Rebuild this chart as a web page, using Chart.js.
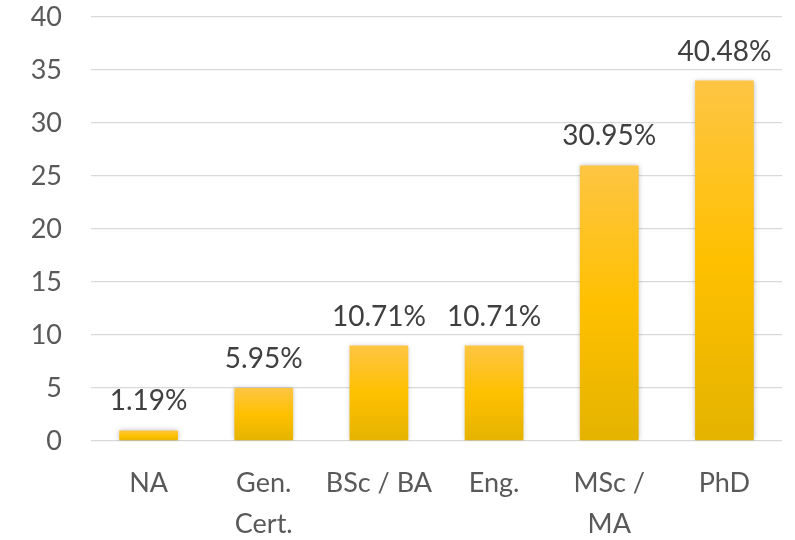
<!DOCTYPE html>
<html>
<head>
<meta charset="utf-8">
<script src="https://cdn.jsdelivr.net/npm/chart.js@4/dist/chart.umd.min.js"></script>
<style>
    html, body { margin: 0; padding: 0; background: #fff; }
    #wrap { width: 795px; height: 540px; }
</style>
</head>
<body>
<div id="wrap"><canvas id="myChart" width="795" height="540"></canvas></div>
<script>
const categories = ['NA', ['Gen.', 'Cert.'], 'BSc / BA', 'Eng.', ['MSc /', 'MA'], 'PhD'];
const counts = [1, 5, 9, 9, 26, 34];
const yTicks = [0, 5, 10, 15, 20, 25, 30, 35, 40];

const total = counts.reduce((a, b) => a + b, 0);
const percentLabels = counts.map(c => (c / total * 100).toFixed(2) + '%');

const fontFamily = 'Lato, "Open Sans", sans-serif';

// each bar gets its own top-to-bottom gradient
function barGradient(context) {
    const chart = context.chart;
    const { ctx, chartArea, scales } = chart;
    if (!chartArea) return '#ffc000';
    const v = context.raw;
    const top = scales.y.getPixelForValue(v);
    const bottom = scales.y.getPixelForValue(0);
    if (bottom - top < 1) return '#ffc000';
    const g = ctx.createLinearGradient(0, top, 0, bottom);
    g.addColorStop(0, '#fec544');
    g.addColorStop(0.5, '#ffc000');
    g.addColorStop(1, '#e4b300');
    return g;
}

const barShadow = {
    id: 'barShadow',
    beforeDatasetsDraw(chart) {
        const ctx = chart.ctx;
        ctx.save();
        ctx.shadowColor = 'rgba(0, 0, 0, 0.28)';
        ctx.shadowBlur = 5;
        ctx.shadowOffsetX = 0;
        ctx.shadowOffsetY = 0;
    },
    afterDatasetsDraw(chart) {
        chart.ctx.restore();
    }
};

const valueLabels = {
    id: 'valueLabels',
    afterDatasetsDraw(chart) {
        const ctx = chart.ctx;
        const meta = chart.getDatasetMeta(0);
        ctx.save();
        ctx.font = '28px ' + fontFamily;
        ctx.fillStyle = '#404040';
        ctx.textAlign = 'center';
        ctx.textBaseline = 'middle';
        meta.data.forEach((bar, i) => {
            ctx.fillText(percentLabels[i], bar.x, bar.y - 29);
        });
        ctx.restore();
    }
};

const ctx = document.getElementById('myChart');
new Chart(ctx, {
    type: 'bar',
    data: {
        labels: categories,
        datasets: [{
            data: counts,
            backgroundColor: barGradient,
            borderWidth: 0,
            categoryPercentage: 1,
            barPercentage: 0.51
        }]
    },
    options: {
        responsive: false,
        animation: false,
        layout: { padding: { top: 17, right: 13, left: 0, bottom: 0 } },
        plugins: {
            legend: { display: false },
            tooltip: { enabled: false }
        },
        scales: {
            x: {
                grid: { display: false, drawTicks: false },
                border: { display: false },
                ticks: {
                    color: '#595959',
                    font: { family: fontFamily, size: 27, lineHeight: 1.55 },
                    padding: 21,
                    maxRotation: 0,
                    autoSkip: false
                },
                afterFit(scale) {
                    scale.height = 99;
                    scale.paddingLeft = 0;
                    scale.paddingRight = 0;
                }
            },
            y: {
                min: yTicks[0],
                max: yTicks[yTicks.length - 1],
                afterBuildTicks(scale) {
                    scale.ticks = yTicks.map(v => ({ value: v }));
                },
                grid: { color: '#d9d9d9', lineWidth: 1.3, drawTicks: false },
                border: { display: false },
                ticks: {
                    color: '#595959',
                    font: { family: fontFamily, size: 27 },
                    padding: 29
                },
                afterFit(scale) {
                    scale.width = 91;
                    scale.paddingTop = 0;
                    scale.paddingBottom = 0;
                }
            }
        }
    },
    plugins: [barShadow, valueLabels]
});
</script>
</body>
</html>
